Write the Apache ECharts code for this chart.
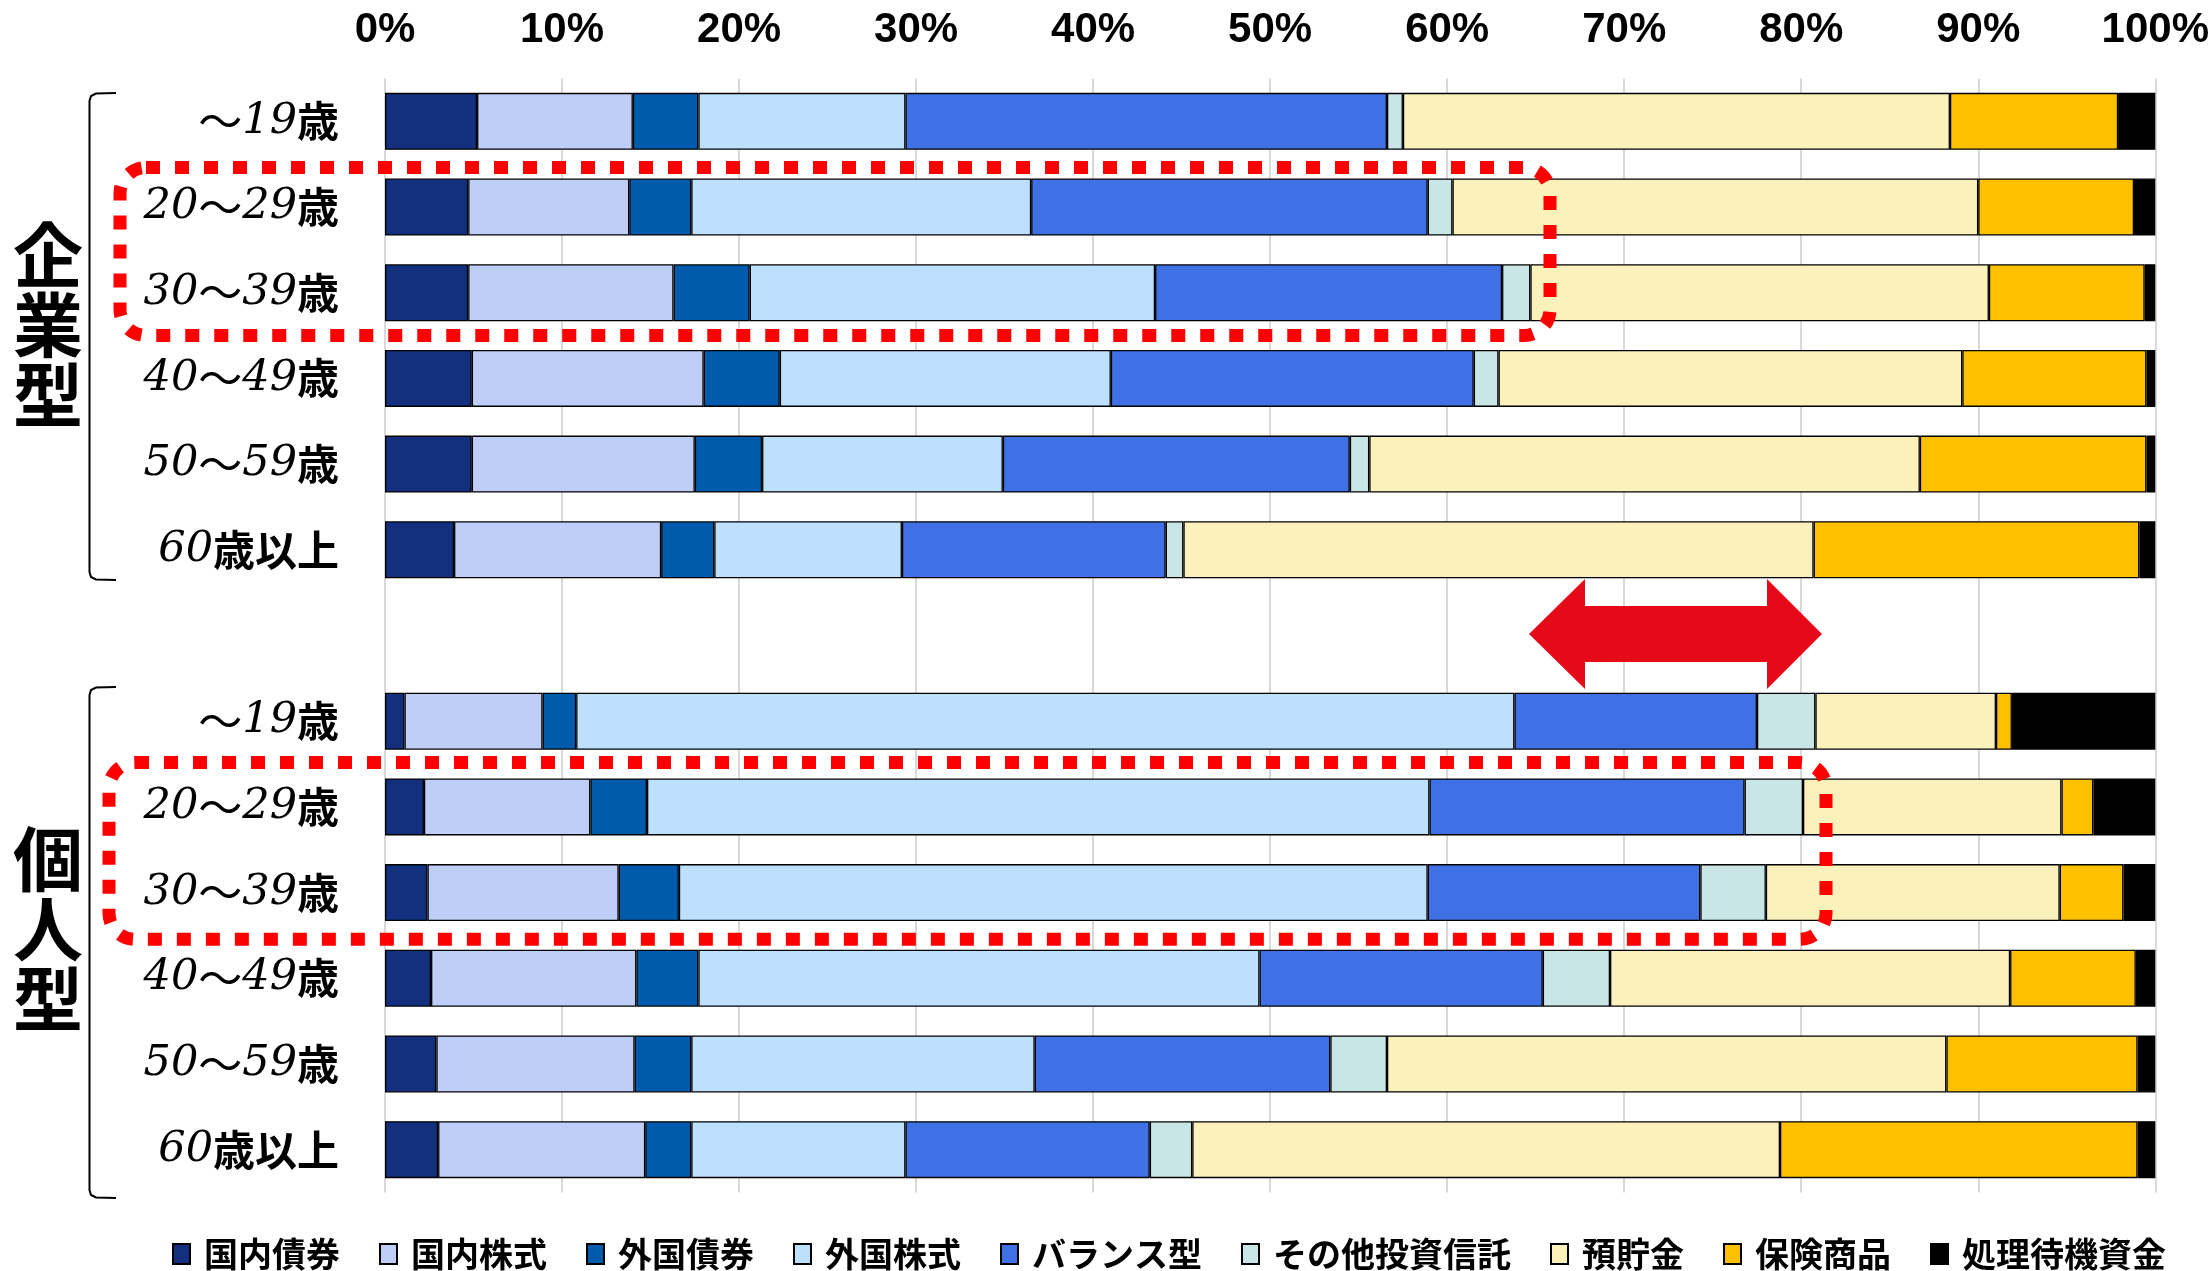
<!DOCTYPE html>
<html>
<head>
<meta charset="utf-8">
<script src="https://cdn.jsdelivr.net/npm/echarts@6/dist/echarts.min.js"></script>
<style>
  html, body { margin: 0; padding: 0; background: #fff; }
  #chart { width: 2212px; height: 1271px; }
</style>
</head>
<body>
<div id="chart"></div>
<script>
// 年代別の資産配分（企業型・個人型）, 単位: %
// 7番目は企業型と個人型の間の空き行
const ageLabels = ['～19歳', '20～29歳', '30～39歳', '40～49歳', '50～59歳', '60歳以上', '',
                   '～19歳', '20～29歳', '30～39歳', '40～49歳', '50～59歳', '60歳以上'];

const seriesNames = ['国内債券', '国内株式', '外国債券', '外国株式', 'バランス型',
                     'その他投資信託', '預貯金', '保険商品', '処理待機資金'];

const domesticBond   = [5.2, 4.7, 4.7, 4.9, 4.9, 3.9, null, 1.1, 2.2, 2.4, 2.6, 2.9, 3.0];
const domesticStock  = [8.8, 9.1, 11.6, 13.1, 12.6, 11.7, null, 7.8, 9.4, 10.8, 11.6, 11.2, 11.7];
const foreignBond    = [3.7, 3.5, 4.3, 4.3, 3.8, 3.0, null, 1.9, 3.2, 3.4, 3.5, 3.2, 2.6];
const foreignStock   = [11.7, 19.2, 22.9, 18.7, 13.6, 10.6, null, 53.0, 44.2, 42.3, 31.7, 19.4, 12.1];
const balanced       = [27.2, 22.4, 19.6, 20.5, 19.6, 14.9, null, 13.7, 17.8, 15.4, 16.0, 16.7, 13.8];
const otherFunds     = [0.9, 1.4, 1.6, 1.4, 1.1, 1.0, null, 3.3, 3.3, 3.7, 3.8, 3.2, 2.4];
const deposits       = [30.9, 29.7, 25.9, 26.2, 31.1, 35.6, null, 10.2, 14.6, 16.6, 22.6, 31.6, 33.2];
const insurance      = [9.5, 8.8, 8.8, 10.4, 12.8, 18.4, null, 0.9, 1.8, 3.6, 7.1, 10.8, 20.2];
const pendingCash    = [2.1, 1.2, 0.6, 0.5, 0.5, 0.9, null, 8.1, 3.5, 1.8, 1.1, 1.0, 1.0];

const xTicks = { min: 0, max: 100, interval: 10 };

const seriesValues = [domesticBond, domesticStock, foreignBond, foreignStock, balanced,
                      otherFunds, deposits, insurance, pendingCash];
const seriesColors = ['#13307f', '#bfcef6', '#005bac', '#bde0fe', '#3f70e4',
                      '#c8e6e5', '#fbf1ba', '#ffc000', '#000000'];

const chart = echarts.init(document.getElementById('chart'), null, { renderer: 'canvas', width: 2212, height: 1271 });

const CJK = '"Noto Sans CJK JP", "Noto Sans", sans-serif';

// 年代ラベル: 数字はセリフ体イタリック、「～」は全角の波線、漢字はゴシック太字
function ageLabel(v) {
  if (!v) return '';
  const m = v.match(/^(.*?)(歳.*)$/);
  let out = '';
  m[1].split(/(～)/).forEach(p => {
    if (!p) return;
    out += (p === '～') ? '{t|～}' : '{n|' + p + '}';
  });
  return out + '{k|' + m[2] + '}';
}

const series = seriesNames.map((name, i) => ({
  name: name,
  type: 'bar',
  stack: 'total',
  barWidth: 57,
  data: seriesValues[i],
  itemStyle: { color: seriesColors[i], borderColor: '#000', borderWidth: 1.3 },
  emphasis: { disabled: true }
}));

// 注釈: かっこ、区分名、点線枠、両矢印
const red = '#ff0000';
function bracket(top, bottom) {
  return {
    type: 'polyline',
    shape: {
      points: [[116, top], [96, top + 0.5], [91, top + 3], [89.5, top + 8],
               [89.5, bottom - 8], [91, bottom - 3], [96, bottom - 0.5], [116, bottom]]
    },
    style: { fill: null, stroke: '#000', lineWidth: 2 },
    z: 10
  };
}
function dottedBox(x1, y1, x2, y2) {
  return {
    type: 'rect',
    shape: { x: x1, y: y1, width: x2 - x1, height: y2 - y1, r: 26 },
    style: { fill: null, stroke: red, lineWidth: 13, lineDash: [14, 15] },
    z: 20
  };
}

const graphics = [
  bracket(93, 580),
  bracket(687, 1198),
  {
    type: 'text', left: 13, top: 220, z: 10,
    style: { text: '企\n業\n型', font: 'bold 70px ' + CJK, fill: '#000', lineHeight: 70 }
  },
  {
    type: 'text', left: 13, top: 824, z: 10,
    style: { text: '個\n人\n型', font: 'bold 70px ' + CJK, fill: '#000', lineHeight: 70 }
  },
  dottedBox(120, 167.5, 1550, 335.6),
  dottedBox(109, 762.6, 1826, 939.3),
  {
    type: 'polygon', z: 20,
    shape: {
      points: [[1529, 634], [1585, 579], [1585, 606], [1767, 606], [1767, 579], [1822, 634],
               [1767, 689], [1767, 662], [1585, 662], [1585, 689]]
    },
    style: { fill: '#e60a19' }
  }
];

chart.setOption({
  animation: false,
  backgroundColor: '#ffffff',
  grid: { left: 385, right: 55, top: 78.5, bottom: 78.5, containLabel: false },
  xAxis: {
    type: 'value',
    position: 'top',
    min: xTicks.min, max: xTicks.max, interval: xTicks.interval,
    axisLine: { show: false },
    axisTick: { show: false },
    splitLine: { show: true, lineStyle: { color: '#d9d9d9', width: 2 } },
    axisLabel: {
      formatter: '{value}%',
      margin: 27,
      fontFamily: '"Liberation Sans Narrow", "Liberation Sans", sans-serif',
      fontWeight: 'bold',
      fontSize: 42,
      color: '#000'
    }
  },
  yAxis: {
    type: 'category',
    inverse: true,
    data: ageLabels,
    axisLine: { show: false },
    axisTick: { show: false },
    splitLine: { show: false },
    axisLabel: {
      margin: 46,
      formatter: ageLabel,
      rich: {
        n: { fontFamily: '"DejaVu Serif", "Liberation Serif", serif', fontStyle: 'italic', fontSize: 43, color: '#000' },
        t: { fontFamily: CJK, fontWeight: 'normal', fontSize: 44, color: '#000' },
        k: { fontFamily: CJK, fontWeight: 'bold', fontSize: 42, color: '#000' }
      }
    }
  },
  legend: {
    data: seriesNames,
    left: 167,
    top: 1232,
    icon: 'rect',
    itemWidth: 17,
    itemHeight: 20,
    itemGap: 39,
    textStyle: {
      fontFamily: CJK,
      fontWeight: 'bold',
      fontSize: 34,
      color: '#000',
      padding: [0, 0, 0, 9]
    }
  },
  series: series,
  graphic: graphics
});
</script>
</body>
</html>
